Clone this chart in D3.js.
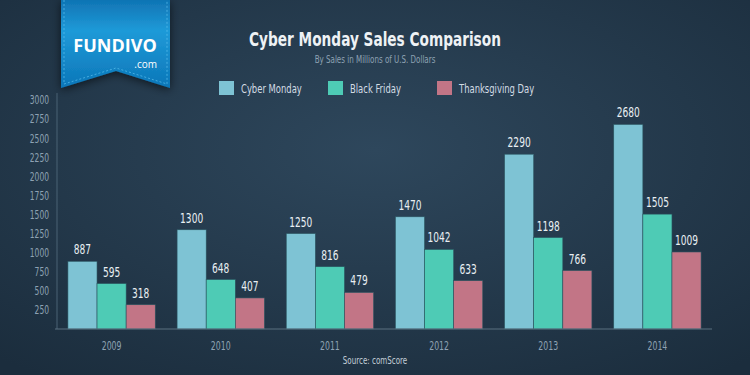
<!DOCTYPE html>
<html>
<head>
<meta charset="utf-8">
<script src="https://cdn.jsdelivr.net/npm/d3@7"></script>
<style>
  html, body { margin: 0; padding: 0; background: #1f3345; }
  svg { display: block; }
</style>
</head>
<body>
<div id="chart"></div>
<script>
// chart data
const years = ['2009', '2010', '2011', '2012', '2013', '2014'];
const seriesNames = ['Cyber Monday', 'Black Friday', 'Thanksgiving Day'];
const cyberMonday = [887, 1300, 1250, 1470, 2290, 2680];
const blackFriday = [595, 648, 816, 1042, 1198, 1505];
const thanksgiving = [318, 407, 479, 633, 766, 1009];
const yTicks = [250, 500, 750, 1000, 1250, 1500, 1750, 2000, 2250, 2500, 2750, 3000];
const colors = ['#7ec3d4', '#4ecbb5', '#c27586'];

const width = 750;
const height = 375;
const narrow = '"DejaVu Sans Condensed", "DejaVu Sans", sans-serif';

// squeeze text horizontally to mimic the narrow face of the original
function condense(sel, factor) {
  sel.each(function () {
    const w = this.getComputedTextLength();
    d3.select(this)
      .attr('textLength', w * factor)
      .attr('lengthAdjust', 'spacingAndGlyphs');
  });
}

const svg = d3.select('#chart').append('svg')
  .attr('width', width)
  .attr('height', height);

// background gradient
const defs = svg.append('defs');
const bg = defs.append('radialGradient')
  .attr('id', 'bg')
  .attr('cx', '50%').attr('cy', '40%').attr('r', '75%');
bg.append('stop').attr('offset', '0%').attr('stop-color', '#2e475c');
bg.append('stop').attr('offset', '100%').attr('stop-color', '#1b2d3d');

const ribbonGrad = defs.append('linearGradient')
  .attr('id', 'ribbon')
  .attr('x1', 0).attr('y1', 0).attr('x2', 0).attr('y2', 1);
ribbonGrad.append('stop').attr('offset', '0%').attr('stop-color', '#0f74b4');
ribbonGrad.append('stop').attr('offset', '35%').attr('stop-color', '#1f9ad8');
ribbonGrad.append('stop').attr('offset', '100%').attr('stop-color', '#0b76b8');

const shadow = defs.append('filter').attr('id', 'shadow')
  .attr('x', '-30%').attr('y', '-30%').attr('width', '160%').attr('height', '160%');
shadow.append('feDropShadow')
  .attr('dx', 0).attr('dy', 2).attr('stdDeviation', 5)
  .attr('flood-color', '#000').attr('flood-opacity', 0.6);

svg.append('rect')
  .attr('width', width)
  .attr('height', height)
  .attr('fill', 'url(#bg)');

// scales
const x0 = d3.scaleBand()
  .domain(years)
  .range([57, 712])
  .paddingInner(0.2)
  .paddingOuter(0.1);
const x1 = d3.scaleBand()
  .domain(seriesNames)
  .range([0, x0.bandwidth()]);
const y = d3.scaleLinear()
  .domain([0, 3000])
  .range([329, 100]);

const rows = years.map((yr, i) => ({
  year: yr,
  values: [cyberMonday[i], blackFriday[i], thanksgiving[i]]
}));

// y axis
const yAxis = svg.append('g')
  .attr('transform', 'translate(57,0)')
  .call(d3.axisLeft(y).tickValues(yTicks).tickFormat(d3.format('d')).tickSize(0).tickPadding(8));
yAxis.select('.domain').remove();
yAxis.selectAll('text')
  .attr('fill', '#8ea2b3')
  .style('font-family', narrow)
  .style('font-size', '12px')
  .call(condense, 0.7);
svg.append('line')
  .attr('x1', 57).attr('x2', 57)
  .attr('y1', 93).attr('y2', y(0))
  .attr('stroke', '#4a6275').attr('stroke-width', 1);

// bars
const groups = svg.append('g').selectAll('g')
  .data(rows)
  .join('g')
  .attr('transform', (d) => `translate(${x0(d.year)},0)`);

groups.selectAll('rect')
  .data((d) => d.values.map((v, i) => ({ name: seriesNames[i], value: v, i: i })))
  .join('rect')
  .attr('x', (d) => x1(d.name))
  .attr('y', (d) => y(d.value))
  .attr('width', x1.bandwidth())
  .attr('height', (d) => y(0) - y(d.value))
  .attr('fill', (d) => colors[d.i])
  .attr('stroke', '#2b5560')
  .attr('stroke-width', 0.6);

// value labels above bars
groups.selectAll('text')
  .data((d) => d.values.map((v, i) => ({ name: seriesNames[i], value: v })))
  .join('text')
  .attr('x', (d) => x1(d.name) + x1.bandwidth() / 2)
  .attr('y', (d) => y(d.value) - 7)
  .attr('text-anchor', 'middle')
  .attr('fill', '#e9eff3')
  .style('font-family', narrow)
  .style('font-size', '14px')
  .text((d) => d.value)
  .call(condense, 0.72);

// baseline and x axis
svg.append('line')
  .attr('x1', 55).attr('x2', 712)
  .attr('y1', y(0)).attr('y2', y(0))
  .attr('stroke', '#5a7080').attr('stroke-width', 1);
const xAxis = svg.append('g')
  .attr('transform', `translate(0,${y(0)})`)
  .call(d3.axisBottom(x0).tickSize(0).tickPadding(12));
xAxis.select('.domain').remove();
xAxis.selectAll('text')
  .attr('fill', '#8ea2b3')
  .style('font-family', narrow)
  .style('font-size', '12px')
  .call(condense, 0.72);

// titles
svg.append('text')
  .attr('x', 375).attr('y', 46)
  .attr('text-anchor', 'middle')
  .attr('fill', '#eef2f5')
  .style('font-family', narrow)
  .style('font-weight', 'bold')
  .style('font-size', '19px')
  .text('Cyber Monday Sales Comparison')
  .call(condense, 0.8);
svg.append('text')
  .attr('x', 375).attr('y', 63)
  .attr('text-anchor', 'middle')
  .attr('fill', '#8ea2b3')
  .style('font-family', narrow)
  .style('font-size', '11px')
  .text('By Sales in Millions of U.S. Dollars')
  .call(condense, 0.72);

// legend
const legendX = [219, 328, 437];
const legend = svg.append('g').selectAll('g')
  .data(seriesNames)
  .join('g')
  .attr('transform', (d, i) => `translate(${legendX[i]},81)`);
legend.append('rect')
  .attr('width', 15).attr('height', 14)
  .attr('fill', (d, i) => colors[i]);
legend.append('text')
  .attr('x', 22).attr('y', 12)
  .attr('fill', '#d3dce4')
  .style('font-family', narrow)
  .style('font-size', '13px')
  .text((d) => d)
  .call(condense, 0.72);

// source
svg.append('text')
  .attr('x', 375).attr('y', 364)
  .attr('text-anchor', 'middle')
  .attr('fill', '#c4cfd8')
  .style('font-family', narrow)
  .style('font-size', '11px')
  .text('Source: comScore')
  .call(condense, 0.72);

// logo ribbon
const ribbon = svg.append('g');
ribbon.append('path')
  .attr('d', 'M61,0 L170,0 L170,88 L116,71 L61,88 Z')
  .attr('fill', 'url(#ribbon)')
  .attr('filter', 'url(#shadow)');
ribbon.append('path')
  .attr('d', 'M64,0 L64,84 L116,68 L167,84 L167,0')
  .attr('fill', 'none')
  .attr('stroke', '#5cc0ee')
  .attr('stroke-width', 0.7)
  .attr('stroke-dasharray', '2,2');
ribbon.append('text')
  .attr('x', 115).attr('y', 52)
  .attr('text-anchor', 'middle')
  .attr('fill', '#ffffff')
  .style('font-family', '"Open Sans", sans-serif')
  .style('font-weight', 'bold')
  .style('font-size', '18px')
  .text('FUNDIVO');
ribbon.append('text')
  .attr('x', 157).attr('y', 68)
  .attr('text-anchor', 'end')
  .attr('fill', '#ffffff')
  .style('font-family', '"Open Sans", sans-serif')
  .style('font-size', '10px')
  .text('.com');
</script>
</body>
</html>
